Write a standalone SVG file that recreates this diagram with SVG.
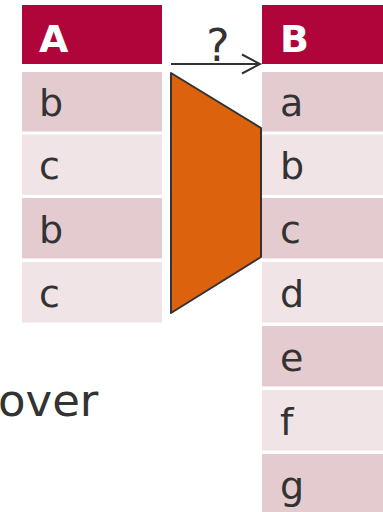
<svg xmlns="http://www.w3.org/2000/svg" width="383" height="512" viewBox="0 0 383 512">
  <style>
    .hd { fill: #B0053A; }
    .dk { fill: #E3CBCF; }
    .lt { fill: #F0E4E6; }
    .ht { font-family: "DejaVu Sans", Verdana, sans-serif; font-weight: bold; font-size: 38px; fill: #FFFFFF; }
    .ct { font-family: "DejaVu Sans", Verdana, sans-serif; font-size: 38px; fill: #333333; }
    .ln { stroke: #333333; stroke-width: 2; fill: none; }
  </style>
  <rect width="383" height="512" fill="#FFFFFF"/>

  <!-- table A -->
  <g id="tableA">
    <rect class="hd" x="22" y="5" width="140" height="59"/>
    <text class="ht" x="39" y="52">A</text>
    <rect class="dk" x="22" y="72" width="140" height="59.5"/>
    <text class="ct" x="39" y="116">b</text>
    <rect class="lt" x="22" y="134.5" width="140" height="60.5"/>
    <text class="ct" x="39" y="179">c</text>
    <rect class="dk" x="22" y="198" width="140" height="60.5"/>
    <text class="ct" x="39" y="243">b</text>
    <rect class="lt" x="22" y="262" width="140" height="60.5"/>
    <text class="ct" x="39" y="307">c</text>
  </g>

  <!-- table B -->
  <g id="tableB">
    <rect class="hd" x="262" y="5" width="121" height="59"/>
    <text class="ht" x="280" y="52">B</text>
    <rect class="dk" x="262" y="72" width="121" height="59.5"/>
    <text class="ct" x="280" y="116">a</text>
    <rect class="lt" x="262" y="134.5" width="121" height="60.5"/>
    <text class="ct" x="280" y="179">b</text>
    <rect class="dk" x="262" y="198" width="121" height="60.5"/>
    <text class="ct" x="280" y="243">c</text>
    <rect class="lt" x="262" y="262" width="121" height="60.5"/>
    <text class="ct" x="280" y="307">d</text>
    <rect class="dk" x="262" y="326" width="121" height="60.5"/>
    <text class="ct" x="280" y="371">e</text>
    <rect class="lt" x="262" y="390" width="121" height="60.5"/>
    <text class="ct" x="280" y="435">f</text>
    <rect class="dk" x="262" y="454" width="121" height="60.5"/>
    <text class="ct" x="280" y="499">g</text>
  </g>

  <!-- mapping shape -->
  <g id="mapper">
    <polygon points="171,73 261,128 261,257 171,313" fill="#DD620E" stroke="#333333" stroke-width="2" stroke-linejoin="round"/>
  </g>

  <!-- connector -->
  <g id="connectors">
    <line class="ln" x1="171" y1="64" x2="260" y2="64"/>
    <polyline class="ln" points="242,54.5 260,64 242,73.5"/>
    <text class="ct" x="218" y="61" text-anchor="middle" style="font-size:44px">?</text>
  </g>

  <g id="caption">
    <text class="ct" x="-2" y="416" style="font-size:45px">over</text>
  </g>
</svg>
